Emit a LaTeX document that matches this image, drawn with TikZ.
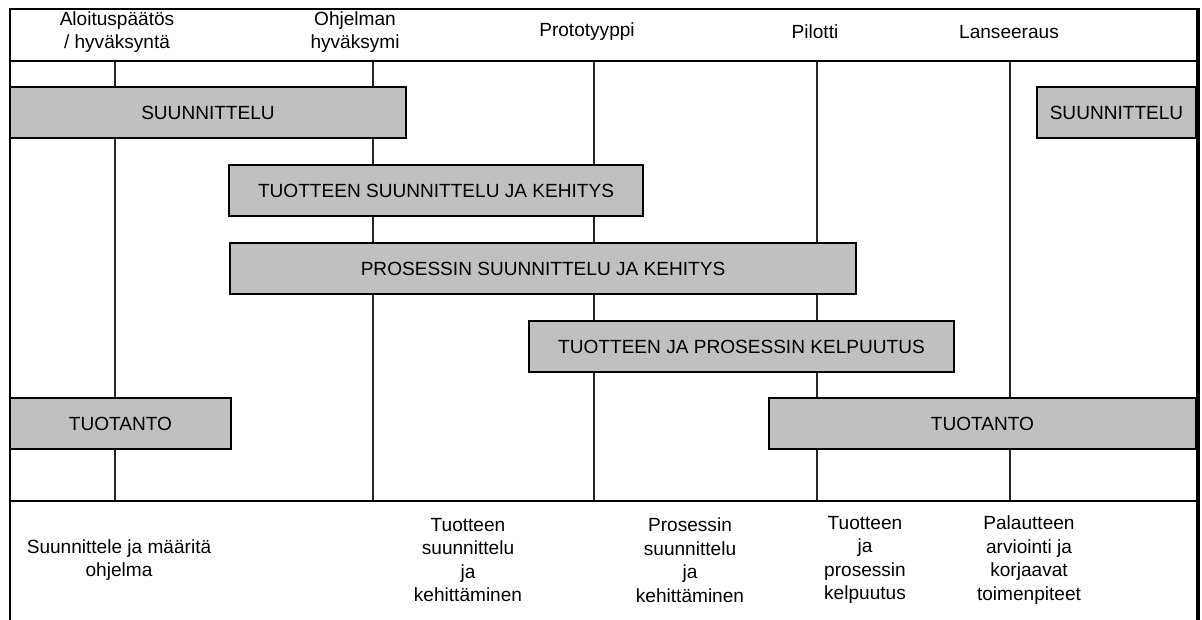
\documentclass[tikz,border=0pt]{standalone}
\usepackage{fontspec}
\setmainfont{Liberation Sans}
\usetikzlibrary{fit}
\definecolor{barfill}{HTML}{C0C0C0}

\begin{document}
\begin{tikzpicture}[x=0.75pt,y=-0.75pt,
		bar/.style={draw=black,line width=1.6pt,fill=barfill,inner sep=0pt},
		gridline/.style={line width=1pt,draw=black!85},
		lbl/.style={align=center,inner sep=0pt,font=\fontsize{14.3}{17.6}\selectfont}]
			%%%%% START %%%%%
			\def\xl{10}
			\def\xr{1198}
			\def\ytop{9}
			\def\yhead{61}
			\def\yfoot{501}
			\def\ybot{620}
			\def\xone{115}
			\def\xtwo{373}
			\def\xthree{594}
			\def\xfour{817}
			\def\xfive{1010}
			
			\useasboundingbox (0,0) rectangle (1202,620);
			
			\draw[gridline] (\xone,\yhead) -- (\xone,\yfoot);
			\draw[gridline] (\xtwo,\yhead) -- (\xtwo,\yfoot);
			\draw[gridline] (\xthree,\yhead) -- (\xthree,\yfoot);
			\draw[gridline] (\xfour,\yhead) -- (\xfour,\yfoot);
			\draw[gridline] (\xfive,\yhead) -- (\xfive,\yfoot);
			
			\node[bar,fit={(\xl,87) (406,138)},label={[lbl]center:SUUNNITTELU}] (suunA) {};
			\node[bar,fit={(1037,87) (1196,138)},label={[lbl]center:SUUNNITTELU}] (suunB) {};
			\node[bar,fit={(229,165) (643,216)},label={[lbl]center:TUOTTEEN SUUNNITTELU JA KEHITYS}] (tuotkeh) {};
			\node[bar,fit={(230,243) (856,294)},label={[lbl]center:PROSESSIN SUUNNITTELU JA KEHITYS}] (proskeh) {};
			\node[bar,fit={(529,321) (954,372)},label={[lbl]center:TUOTTEEN JA PROSESSIN KELPUUTUS}] (kelp) {};
			\node[bar,fit={(\xl,398) (231,449)},label={[lbl]center:TUOTANTO}] (tuotA) {};
			\node[bar,fit={(769,398) (1196,449)},label={[lbl]center:TUOTANTO}] (tuotB) {};
			
			\draw[line width=1.6pt] (\xl,\yhead) -- (\xr,\yhead);
			\draw[line width=1.6pt] (\xl,\yfoot) -- (\xr,\yfoot);
			\draw[line width=2.2pt] (\xl,\ybot) -- (\xl,\ytop) -- (\xr,\ytop);
			\draw[line width=3.2pt] (\xr,\ytop-1) -- (\xr,\ybot);
			
			\node[lbl] (aloitus) at (117,32) {Aloituspäätös\\/ hyväksyntä};
			\node[lbl] (ohjelma) at (355,32) {Ohjelman\\hyväksymi};
			\node[lbl] (proto) at (587,32) {Prototyyppi};
			\node[lbl] (pilotti) at (815,32) {Pilotti};
			\node[lbl] (lans) at (1009,32) {Lanseeraus};
			
			\node[lbl] (vaihe1) at (119,560) {Suunnittele ja määritä\\ohjelma};
			\node[lbl] (vaihe2) at (468,560) {Tuotteen\\suunnittelu\\ja\\kehittäminen};
			\node[lbl] (vaihe3) at (690,560) {Prosessin\\suunnittelu\\ja\\kehittäminen};
			\node[lbl] (vaihe4) at (865,560) {Tuotteen\\ja\\prosessin\\kelpuutus};
			\node[lbl] (vaihe5) at (1029,560) {Palautteen\\arviointi ja\\korjaavat\\toimenpiteet};
			%%%%% END %%%%%
\end{tikzpicture}
\end{document}
